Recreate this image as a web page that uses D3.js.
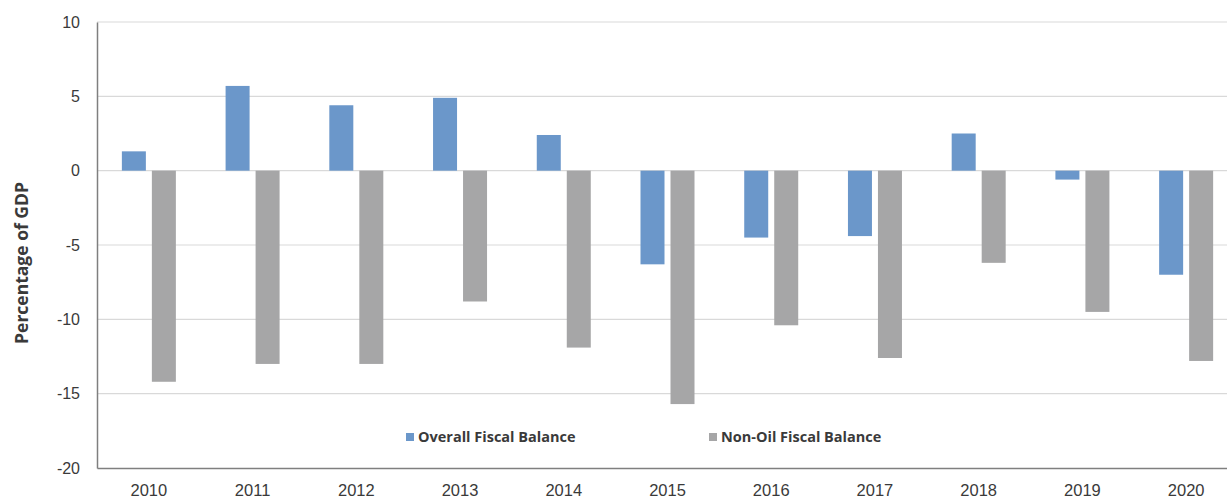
<!DOCTYPE html>
<html>
<head>
<meta charset="utf-8">
<script src="https://cdn.jsdelivr.net/npm/d3@7"></script>
<style>
  html, body { margin: 0; padding: 0; background: #ffffff; }
  svg { display: block; font-family: "Open Sans", Lato, sans-serif; }
</style>
</head>
<body>
<svg id="chart" width="1227" height="502"></svg>
<script>
// Fiscal balances, percent of GDP
const years = ["2010","2011","2012","2013","2014","2015","2016","2017","2018","2019","2020"];
const overallBalance = [1.3, 5.7, 4.4, 4.9, 2.4, -6.3, -4.5, -4.4, 2.5, -0.6, -7.0];
const nonOilBalance = [-14.2, -13.0, -13.0, -8.8, -11.9, -15.7, -10.4, -12.6, -6.2, -9.5, -12.8];
const yTicks = [10, 5, 0, -5, -10, -15, -20];
const seriesNames = ["Overall Fiscal Balance", "Non-Oil Fiscal Balance"];
const seriesColors = ["#6b97ca", "#a6a6a7"];

const svg = d3.select("#chart");
const plot = { left: 97, right: 1238, top: 22, bottom: 468 };

const x = d3.scaleBand().domain(years).range([plot.left, plot.right]).padding(0);
const y = d3.scaleLinear().domain([-20, 10]).range([plot.bottom, plot.top]);

// horizontal gridlines
svg.append("g")
  .selectAll("line")
  .data(yTicks.filter(t => t !== -20))
  .join("line")
  .attr("x1", plot.left).attr("x2", 1227)
  .attr("y1", d => y(d)).attr("y2", d => y(d))
  .attr("stroke", "#d9d9d9").attr("stroke-width", 1.2);

// bars: two per year, blue left of centre, gray right of centre
const barW = 24, gap = 6;
const barOffsets = [-barW - gap / 2, gap / 2];
[overallBalance, nonOilBalance].forEach((vals, si) => {
  svg.append("g")
    .selectAll("rect")
    .data(vals.map((v, i) => ({ year: years[i], v })))
    .join("rect")
    .attr("x", d => x(d.year) + x.bandwidth() / 2 + barOffsets[si])
    .attr("width", barW)
    .attr("y", d => y(Math.max(0, d.v)))
    .attr("height", d => Math.abs(y(d.v) - y(0)))
    .attr("fill", seriesColors[si]);
});

// y axis (plain hyphen for negatives)
const yAxis = svg.append("g")
  .attr("transform", `translate(${plot.left},0)`)
  .call(d3.axisLeft(y).tickValues(yTicks).tickFormat(d => String(d)).tickSize(0).tickPadding(17));
yAxis.select(".domain").attr("stroke", "#7f7f7f").attr("stroke-width", 1.5);
yAxis.selectAll("text").attr("font-size", 16).attr("fill", "#3a3a3a");

// x axis
const xAxis = svg.append("g")
  .attr("transform", `translate(0,${plot.bottom})`)
  .call(d3.axisBottom(x).tickSize(0).tickPadding(16));
xAxis.select(".domain").attr("stroke", "#7f7f7f").attr("stroke-width", 1.5);
xAxis.selectAll("text").attr("font-size", 16.5).attr("fill", "#3a3a3a");

// y axis title
svg.append("text")
  .attr("transform", "translate(28,263) rotate(-90)")
  .attr("text-anchor", "middle")
  .attr("font-size", 17.5).attr("font-weight", "bold").attr("fill", "#3a3a3a")
  .text("Percentage of GDP");

// legend
const legendX = [406, 709];
seriesNames.forEach((name, i) => {
  const g = svg.append("g").attr("transform", `translate(${legendX[i]},437)`);
  g.append("rect").attr("x", 0).attr("y", -4).attr("width", 8).attr("height", 8).attr("fill", seriesColors[i]);
  g.append("text").attr("x", 12).attr("y", 0).attr("dy", "0.36em")
    .attr("font-size", 14.5).attr("font-weight", "bold").attr("fill", "#3a3a3a")
    .text(name);
});
</script>
</body>
</html>
